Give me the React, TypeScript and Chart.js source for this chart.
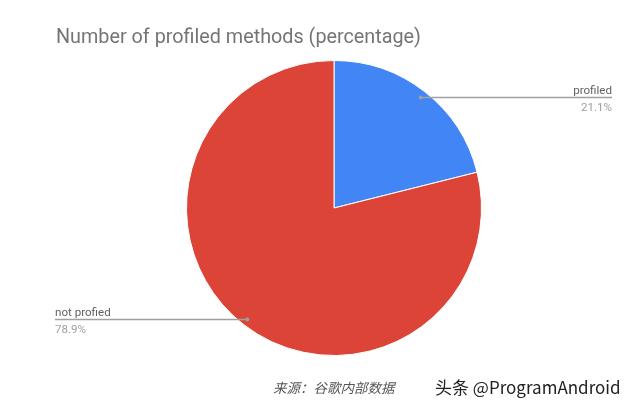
import React, { useEffect, useRef } from "react";
import { Chart, registerables } from "chart.js";

Chart.register(...registerables);

const categories = ["profiled", "not profied"];
const values = [21.1, 78.9];
const valueLabels = ["21.1%", "78.9%"];
const colors = ["#4285F4", "#DB4437"];
const titleText = "Number of profiled methods (percentage)";
const sourceText = "来源：谷歌内部数据";
const watermarkText = "头条 @ProgramAndroid";

const overlayPlugin = {
  id: "overlay",
  afterDraw(chart: any) {
    const ctx = chart.ctx;
    const meta = chart.getDatasetMeta(0);
    ctx.save();
    // title
    ctx.fillStyle = "#757575";
    ctx.font = "19.8px Roboto";
    ctx.textAlign = "left";
    ctx.textBaseline = "alphabetic";
    ctx.fillText(titleText, 56, 43);

    meta.data.forEach((arc: any, i: number) => {
      const p = arc.getProps(["x", "y", "startAngle", "endAngle", "outerRadius"], true);
      const mid = (p.startAngle + p.endAngle) / 2;
      const r = p.outerRadius * 0.955;
      const dx = p.x + Math.cos(mid) * r;
      const dy = p.y + Math.sin(mid) * r;
      const right = Math.cos(mid) >= 0;
      const y = Math.round(dy) + 0.5;
      ctx.strokeStyle = "#a0a0a0";
      ctx.lineWidth = 1.3;
      ctx.beginPath();
      if (right) {
        ctx.moveTo(dx, y);
        ctx.lineTo(612, y);
      } else {
        ctx.moveTo(55, y);
        ctx.lineTo(dx, y);
      }
      ctx.stroke();
      ctx.fillStyle = "#9e9e9e";
      ctx.beginPath();
      ctx.arc(dx, y, 2, 0, Math.PI * 2);
      ctx.fill();

      ctx.font = "11.6px Roboto";
      ctx.textAlign = right ? "right" : "left";
      const tx = right ? 612 : 55;
      ctx.fillStyle = "#616161";
      ctx.textBaseline = "alphabetic";
      ctx.fillText(categories[i], tx, y - 4);
      ctx.fillStyle = "#a0a0a0";
      ctx.fillText(valueLabels[i], tx, y + 13);
    });

    // source
    ctx.textAlign = "left";
    ctx.fillStyle = "#555555";
    ctx.font = "italic 13.5px 'Noto Sans CJK SC'";
    ctx.fillText(sourceText, 273, 393);
    ctx.fillStyle = "#222222";
    ctx.font = "17px 'Noto Sans CJK SC'";
    ctx.fillText(watermarkText, 435, 394);
    ctx.restore();
  },
};

export default function App() {
  const ref = useRef<HTMLCanvasElement>(null);
  useEffect(() => {
    if (!ref.current) return;
    const chart = new Chart(ref.current, {
      type: "pie",
      data: {
        labels: categories,
        datasets: [
          {
            data: values,
            backgroundColor: colors,
            borderColor: "#ffffff",
            borderWidth: 1,
          },
        ],
      },
      options: {
        animation: false,
        responsive: false,
        layout: { padding: { left: 186, right: 150, top: 60, bottom: 53 } },
        plugins: {
          legend: { display: false },
          tooltip: { enabled: false },
        },
      },
      plugins: [overlayPlugin],
    });
    return () => chart.destroy();
  }, []);
  return (
    <div style={{ position: "fixed", left: 0, top: 0, width: 632, height: 409, background: "#fff" }}>
      <canvas ref={ref} width={632} height={409} style={{ width: 632, height: 409 }} />
    </div>
  );
}
